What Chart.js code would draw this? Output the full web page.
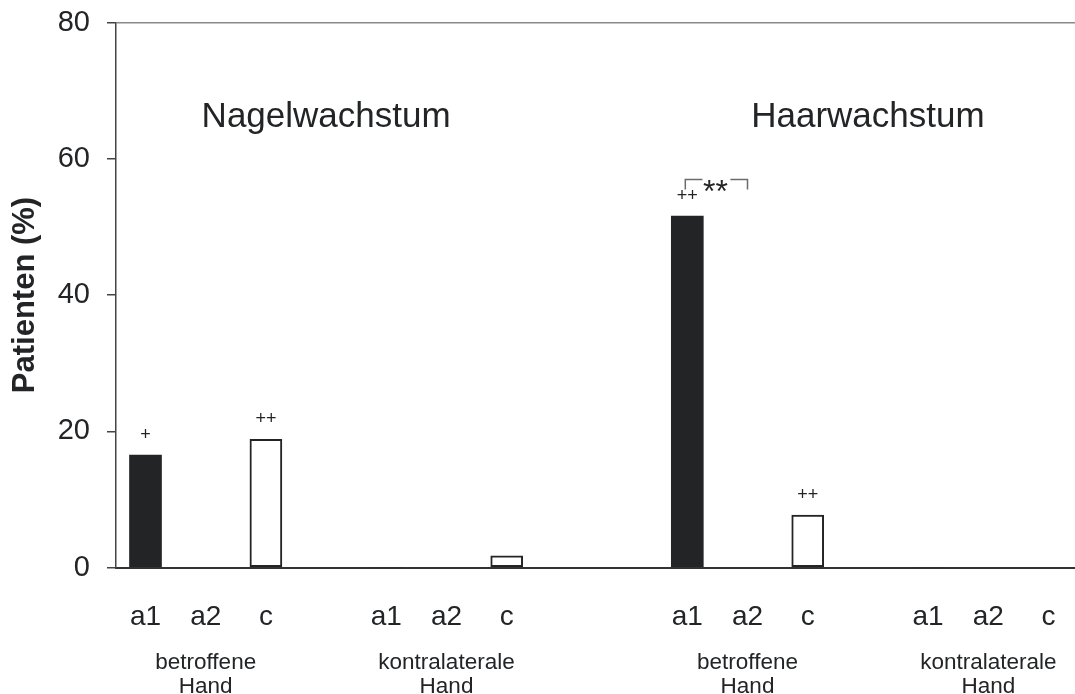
<!DOCTYPE html>
<html>
<head>
<meta charset="utf-8">
<script src="https://cdn.jsdelivr.net/npm/chart.js@4/dist/chart.umd.min.js"></script>
<style>
  html, body { margin: 0; padding: 0; background: #ffffff; }
  canvas { display: block; }
</style>
</head>
<body>
<canvas id="chart" width="1075" height="694"></canvas>
<script>
// Sub-categories within each hand group
const subLabels = ['a1', 'a2', 'c'];
const handLabels = [['betroffene', 'Hand'], ['kontralaterale', 'Hand']];
const panelTitles = ['Nagelwachstum', 'Haarwachstum'];
const yTicks = [0, 20, 40, 60, 80];

// Patienten (%) per group, order a1, a2, c
const nagelBetroffene = [16.5, 0, 18.8];
const nagelKontralaterale = [0, 0, 1.7];
const haarBetroffene = [51.6, 0, 7.7];
const haarKontralaterale = [0, 0, 0];

// Significance marks above each bar
const nagelBetroffeneSig = ['+', '', '++'];
const nagelKontralateraleSig = ['', '', ''];
const haarBetroffeneSig = ['++', '', '++'];
const haarKontralateraleSig = ['', '', ''];

// Pairwise comparison within Haarwachstum / betroffene Hand: a1 vs a2
const haarComparison = ['a1', 'a2', '**'];

const FONT = "'Liberation Sans', Arial, Helvetica, sans-serif";
const INK = '#222426';

const groups = [
  { values: nagelBetroffene, sig: nagelBetroffeneSig, hand: handLabels[0] },
  { values: nagelKontralaterale, sig: nagelKontralateraleSig, hand: handLabels[1] },
  { values: haarBetroffene, sig: haarBetroffeneSig, hand: handLabels[0] },
  { values: haarKontralaterale, sig: haarKontralateraleSig, hand: handLabels[1] }
];

// empty slots left before each group on the x axis
const gapBefore = [0, 1, 2, 1];
let slot = 0;
groups.forEach((g, i) => { slot += gapBefore[i]; g.start = slot; slot += subLabels.length; });

const points = [];
groups.forEach((g, gi) => {
  g.values.forEach((v, j) => points.push({ x: g.start + j, y: v, sub: j, group: gi }));
});
const slots = points.map(p => p.x);

const annotations = {
  id: 'annotations',
  afterDraw(chart) {
    const { ctx, scales: { x, y } } = chart;
    ctx.save();
    ctx.fillStyle = INK;
    ctx.textAlign = 'center';

    // significance marks
    ctx.font = '18px ' + FONT;
    ctx.textBaseline = 'middle';
    groups.forEach(g => {
      g.sig.forEach((s, j) => {
        if (!s) return;
        ctx.fillText(s, x.getPixelForValue(g.start + j), y.getPixelForValue(g.values[j]) - 20);
      });
    });

    // bracket a1 – a2 with stars
    const hg = groups[2];
    const i0 = subLabels.indexOf(haarComparison[0]);
    const i1 = subLabels.indexOf(haarComparison[1]);
    const xl = x.getPixelForValue(hg.start + i0) - 2;
    const xr = x.getPixelForValue(hg.start + i1);
    const yt = y.getPixelForValue(hg.values[i0]) - 36.5;
    const xm = (xl + xr) / 2 - 1;
    ctx.strokeStyle = '#6b6b6b';
    ctx.lineWidth = 1.5;
    ctx.beginPath();
    ctx.moveTo(xl, yt + 10); ctx.lineTo(xl, yt); ctx.lineTo(xm - 13, yt);
    ctx.moveTo(xm + 15, yt); ctx.lineTo(xr, yt); ctx.lineTo(xr, yt + 10);
    ctx.stroke();
    ctx.font = '32px ' + FONT;
    ctx.textBaseline = 'alphabetic';
    ctx.fillText(haarComparison[2], xm, yt + 22.5);

    // hand group labels
    ctx.font = '22.5px ' + FONT;
    groups.forEach(g => {
      const cx = x.getPixelForValue(g.start + 1);
      ctx.fillText(g.hand[0], cx, 669);
      ctx.fillText(g.hand[1], cx, 693);
    });

    // panel titles, centred over each pair of hand groups
    ctx.font = '35px ' + FONT;
    panelTitles.forEach((t, p) => {
      const a = groups[p * 2], b = groups[p * 2 + 1];
      const cx = (x.getPixelForValue(a.start + 1) + x.getPixelForValue(b.start + 1)) / 2;
      ctx.fillText(t, cx, 127);
    });
    ctx.restore();
  }
};

new Chart(document.getElementById('chart'), {
  type: 'bar',
  data: {
    datasets: [{
      data: points,
      barThickness: 32,
      backgroundColor: c => (c.raw && c.raw.sub === 0) ? INK : '#ffffff',
      borderColor: INK,
      borderWidth: c => (c.raw && c.raw.sub === 0) ? 0 : 2,
      borderSkipped: false
    }]
  },
  options: {
    responsive: false,
    animation: false,
    devicePixelRatio: 1,
    layout: { padding: { top: 0, right: 0, bottom: 0, left: 0 } },
    plugins: { legend: { display: false }, tooltip: { enabled: false } },
    scales: {
      x: {
        type: 'linear',
        min: -0.49,
        max: 15.44,
        offset: false,
        afterBuildTicks: s => { s.ticks = slots.map(v => ({ value: v })); },
        afterFit: s => { s.height = 126.5; s.paddingLeft = 0; s.paddingRight = 0; },
        ticks: {
          autoSkip: false,
          maxRotation: 0,
          padding: 33,
          color: INK,
          font: { family: FONT, size: 28 },
          callback: (v, i) => subLabels[points[i] ? points[i].sub : 0]
        },
        grid: { display: false, drawTicks: false },
        border: { display: true, color: '#333333', width: 2 }
      },
      y: {
        min: 0,
        max: 80,
        afterBuildTicks: s => { s.ticks = yTicks.map(v => ({ value: v })); },
        afterFit: s => { s.width = 116; s.paddingTop = 22.5; s.paddingBottom = 0; },
        ticks: {
          padding: 17,
          color: INK,
          font: { family: FONT, size: 29 }
        },
        grid: {
          drawOnChartArea: true,
          drawTicks: true,
          tickLength: 9,
          tickColor: '#444444',
          tickWidth: 1.5,
          lineWidth: 1.5,
          color: c => (c.tick && c.tick.value === 80) ? '#8a8a8a' : 'rgba(0,0,0,0)'
        },
        border: { display: true, color: '#444444', width: 1.5 },
        title: {
          display: true,
          text: 'Patienten (%)',
          color: INK,
          font: { family: FONT, size: 31, weight: 'bold' },
          padding: { top: 7, bottom: 0 }
        }
      }
    }
  },
  plugins: [annotations]
});
</script>
</body>
</html>
